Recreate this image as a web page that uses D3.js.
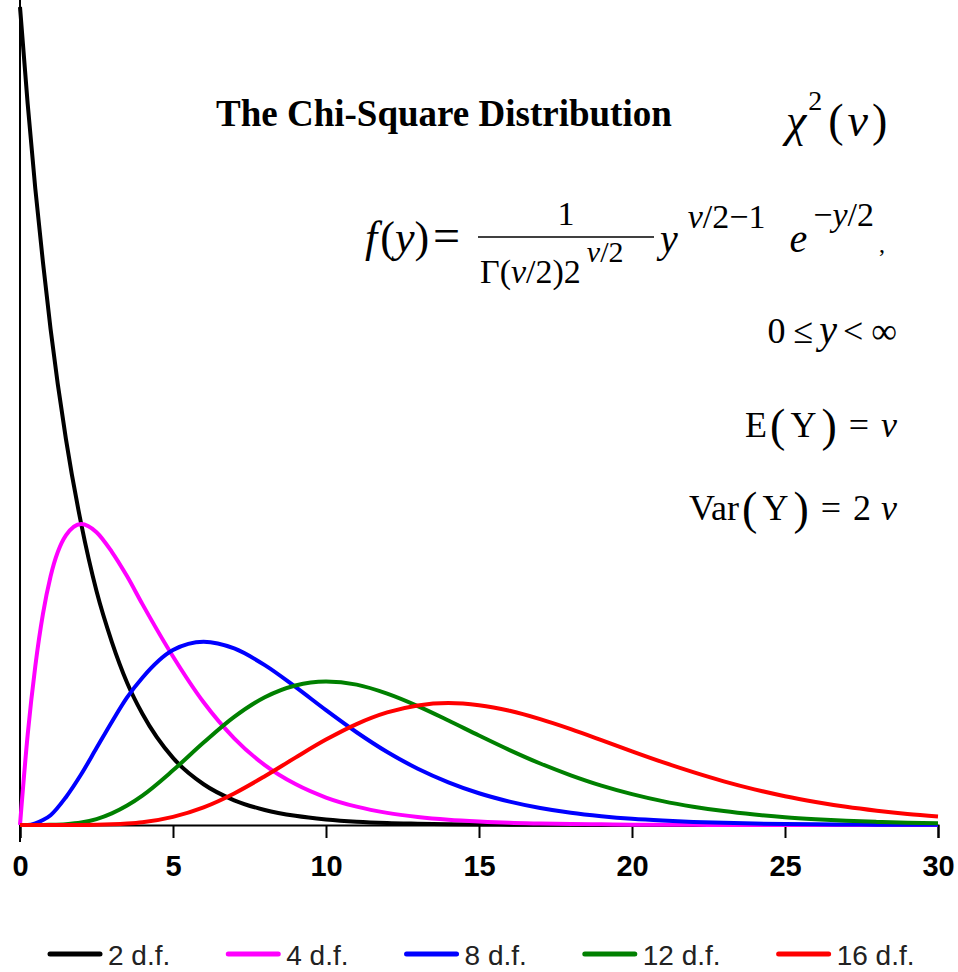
<!DOCTYPE html>
<html lang="en">
<head>
  <meta charset="UTF-8">
  <title>The Chi-Square Distribution</title>
  <script src="https://d3js.org/d3.v7.min.js"></script>
  <style>
    body { margin: 0; overflow: hidden; background: #fff; }
    svg { display: block; background: #fff; }
    .serif { font-family: "Liberation Serif", "Times New Roman", serif; }
    .sans { font-family: "Liberation Sans", Arial, sans-serif; }
  </style>
</head>
<body>
  <svg id="chart" width="958" height="972"></svg>

  <script>
    // x positions of the readings (shared by every curve)
    const xs = [0, 0.25, 0.5, 0.75, 1, 1.5, 2, 2.5, 3, 3.5, 4,
      5, 6, 7, 8, 9, 10, 11, 12, 13, 14, 15, 16, 17, 18, 19, 20,
      21, 22, 23, 24, 25, 26, 27, 28, 29, 30];

    // density values, one list per curve
    const df2 = [0.500, 0.441, 0.389, 0.344, 0.303, 0.236, 0.184, 0.143, 0.112, 0.087, 0.068,
      0.0410, 0.0249, 0.0151, 0.0092, 0.0056, 0.0034, 0.0020, 0.0012, 0.0008, 0.0005, 0.0003, 0.0002, 0.0001, 0.0001, 0, 0,
      0, 0, 0, 0, 0, 0, 0, 0, 0, 0];
    const df4 = [0, 0.055, 0.097, 0.129, 0.152, 0.177, 0.184, 0.179, 0.167, 0.152, 0.135,
      0.103, 0.075, 0.053, 0.0366, 0.0250, 0.0168, 0.0112, 0.0074, 0.0049, 0.0032, 0.0021, 0.0013, 0.0009, 0.0006, 0.0004, 0.0002,
      0.0001, 0.0001, 0, 0, 0, 0, 0, 0, 0, 0];
    const df8 = [0, 0, 0.001, 0.003, 0.006, 0.017, 0.031, 0.047, 0.063, 0.078, 0.090,
      0.1069, 0.1120, 0.1079, 0.0977, 0.0844, 0.0702, 0.0567, 0.0446, 0.0344, 0.0261, 0.0194, 0.0143, 0.0104, 0.0075, 0.0054, 0.0038,
      0.0027, 0.0019, 0.0013, 0.0009, 0.0006, 0.0004, 0.0003, 0.0002, 0.0001, 0.0001];
    const df12 = [0, 0, 0, 0, 0.0001, 0.0005, 0.0015, 0.0036, 0.0071, 0.0119, 0.0180,
      0.0334, 0.0504, 0.0661, 0.0781, 0.0853, 0.0877, 0.0858, 0.0803, 0.0727, 0.0639, 0.0547, 0.0458, 0.0376, 0.0304, 0.0241, 0.0189,
      0.0146, 0.0112, 0.0085, 0.0064, 0.0047, 0.0035, 0.0026, 0.0019, 0.0013, 0.0010];
    const df16 = [0, 0, 0, 0, 0, 0, 0, 0.0001, 0.0004, 0.0009, 0.0017,
      0.0050, 0.0108, 0.0193, 0.0298, 0.0412, 0.0522, 0.0617, 0.0688, 0.0731, 0.0745, 0.0732, 0.0698, 0.0647, 0.0586, 0.0519, 0.0450,
      0.0384, 0.0323, 0.0267, 0.0218, 0.0176, 0.0141, 0.0111, 0.0087, 0.0067, 0.0052];

    const seriesNames = ["2 d.f.", "4 d.f.", "8 d.f.", "12 d.f.", "16 d.f."];
    const seriesValues = [df2, df4, df8, df12, df16];
    const seriesColors = ["#000000", "#ff00ff", "#0000ff", "#008000", "#ff0000"];
    const xTicks = [0, 5, 10, 15, 20, 25, 30];

    const svg = d3.select("#chart");

    const x = d3.scaleLinear().domain([0, 30]).range([20, 938]);
    const y = d3.scaleLinear().domain([0, 0.5]).range([825, 7]);

    // axis lines
    svg.append("line")
      .attr("x1", x(0)).attr("x2", x(0))
      .attr("y1", 0).attr("y2", 842)
      .attr("stroke", "#000").attr("stroke-width", 2);

    const xAxis = svg.append("g")
      .attr("transform", `translate(0,${y(0)})`)
      .call(d3.axisBottom(x).tickValues(xTicks).tickSize(13).tickPadding(17).tickFormat(d3.format("d")));
    xAxis.select(".domain").attr("stroke", "#000").attr("stroke-width", 2);
    xAxis.selectAll(".tick line").attr("stroke", "#000").attr("stroke-width", 2);
    xAxis.selectAll(".tick text")
      .attr("class", "sans")
      .attr("font-size", 29)
      .attr("font-weight", "bold")
      .attr("fill", "#000");

    // curves
    const line = d3.line()
      .x((d, i) => x(xs[i]))
      .y(d => y(d))
      .curve(d3.curveMonotoneX);

    svg.append("g")
      .selectAll("path")
      .data(seriesValues)
      .join("path")
      .attr("d", line)
      .attr("fill", "none")
      .attr("stroke", (d, i) => seriesColors[i])
      .attr("stroke-width", 4)
      .attr("stroke-linejoin", "round");

    // legend
    const legend = svg.append("g").attr("class", "sans");
    let lx = 50;
    seriesNames.forEach((name, i) => {
      legend.append("line")
        .attr("x1", lx).attr("x2", lx + 50)
        .attr("y1", 954).attr("y2", 954)
        .attr("stroke", seriesColors[i]).attr("stroke-width", 5)
        .attr("stroke-linecap", "round");
      const t = legend.append("text")
        .attr("x", lx + 58).attr("y", 965)
        .attr("font-size", 28)
        .attr("fill", "#222")
        .text(name);
      lx += t.node().getComputedTextLength() + 116;
    });

    // title and formulas
    const txt = svg.append("g").attr("class", "serif").attr("fill", "#000");

    txt.append("text")
      .attr("x", 216).attr("y", 126)
      .attr("font-size", 37).attr("font-weight", "bold")
      .text("The Chi-Square Distribution");

    // chi-square symbol
    const chi = txt.append("text").attr("x", 786).attr("y", 136).attr("font-size", 46);
    chi.append("tspan").attr("font-style", "italic").text("χ");
    chi.append("tspan").attr("font-size", 28).attr("dy", -26).attr("dx", 2).text("2");
    chi.append("tspan").attr("dy", 26).attr("dx", 6).text("(");
    chi.append("tspan").attr("font-style", "italic").attr("dx", 4).text("v");
    chi.append("tspan").attr("dx", 4).text(")");

    // density formula
    const f1 = txt.append("text").attr("x", 365).attr("y", 252).attr("font-size", 44);
    f1.append("tspan").attr("font-style", "italic").text("f");
    f1.append("tspan").attr("dx", 3).text("(");
    f1.append("tspan").attr("font-style", "italic").text("y");
    f1.append("tspan").text(")");
    f1.append("tspan").attr("dx", 4).attr("font-size", 48).text("=");

    txt.append("line")
      .attr("x1", 478).attr("x2", 654)
      .attr("y1", 237).attr("y2", 237)
      .attr("stroke", "#000").attr("stroke-width", 1.5);

    txt.append("text").attr("x", 566).attr("y", 225)
      .attr("font-size", 34).attr("text-anchor", "middle").text("1");

    const den = txt.append("text").attr("x", 480).attr("y", 283).attr("font-size", 34);
    den.append("tspan").text("Γ(");
    den.append("tspan").attr("font-style", "italic").text("v");
    den.append("tspan").text("/2)2");
    const denSup = den.append("tspan").attr("font-size", 30).attr("dy", -21).attr("dx", 6);
    denSup.append("tspan").attr("font-style", "italic").text("v");
    denSup.append("tspan").text("/2");

    const f2 = txt.append("text").attr("x", 660).attr("y", 252).attr("font-size", 40);
    f2.append("tspan").attr("font-style", "italic").text("y");
    f2.append("tspan").attr("font-size", 34).attr("dy", -24).attr("dx", 10).attr("font-style", "italic").text("v");
    f2.append("tspan").attr("font-size", 34).text("/2−1");
    f2.append("tspan").attr("dy", 24).attr("dx", 24).attr("font-style", "italic").text("e");
    f2.append("tspan").attr("font-size", 34).attr("dy", -26).attr("dx", 6).text("−");
    f2.append("tspan").attr("font-size", 34).attr("font-style", "italic").text("y");
    f2.append("tspan").attr("font-size", 34).text("/2");
    f2.append("tspan").attr("font-size", 24).attr("dy", 26).attr("dx", 5).text(",");

    // right aligned facts
    const r1 = txt.append("text").attr("x", 897).attr("y", 343)
      .attr("font-size", 36).attr("text-anchor", "end");
    r1.append("tspan").text("0");
    r1.append("tspan").attr("dx", 8).text("≤");
    r1.append("tspan").attr("dx", 6).attr("font-style", "italic").attr("font-size", 40).text("y");
    r1.append("tspan").attr("dx", 6).text("<");
    r1.append("tspan").attr("dx", 8).text("∞");

    const r2 = txt.append("text").attr("x", 897).attr("y", 437)
      .attr("font-size", 36).attr("text-anchor", "end");
    r2.append("tspan").text("E");
    r2.append("tspan").attr("dx", 3).attr("font-size", 46).attr("dy", 4).text("(");
    r2.append("tspan").attr("dx", 5).attr("dy", -4).text("Y");
    r2.append("tspan").attr("dx", 5).attr("font-size", 46).attr("dy", 4).text(")");
    r2.append("tspan").attr("dx", 12).attr("dy", -4).text("=");
    r2.append("tspan").attr("dx", 12).attr("font-style", "italic").text("v");

    const r3 = txt.append("text").attr("x", 897).attr("y", 520)
      .attr("font-size", 36).attr("text-anchor", "end");
    r3.append("tspan").text("Var");
    r3.append("tspan").attr("dx", 3).attr("font-size", 46).attr("dy", 4).text("(");
    r3.append("tspan").attr("dx", 5).attr("dy", -4).text("Y");
    r3.append("tspan").attr("dx", 5).attr("font-size", 46).attr("dy", 4).text(")");
    r3.append("tspan").attr("dx", 12).attr("dy", -4).text("=");
    r3.append("tspan").attr("dx", 12).text("2");
    r3.append("tspan").attr("dx", 10).attr("font-style", "italic").text("v");
  </script>
</body>
</html>
